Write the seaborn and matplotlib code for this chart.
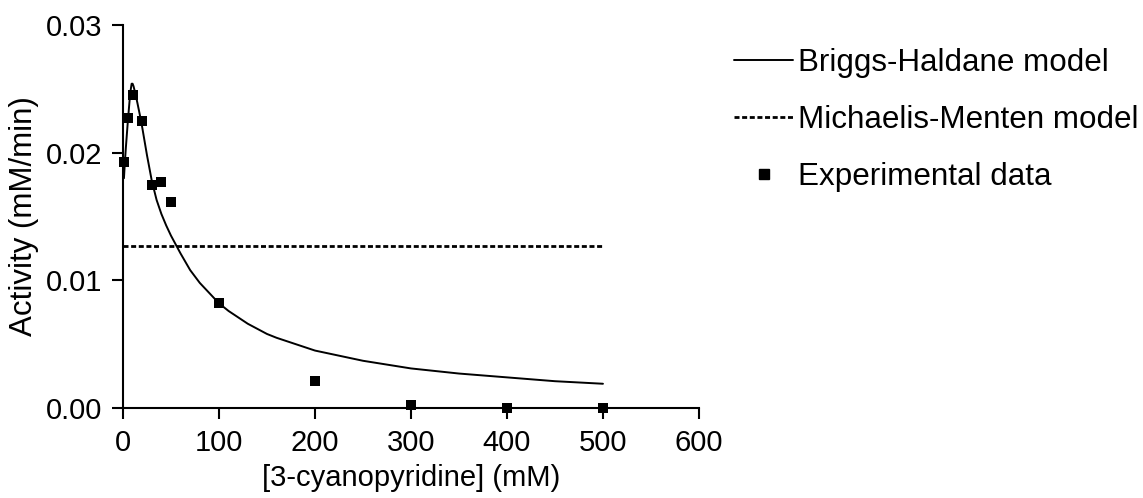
import matplotlib
matplotlib.use("Agg")
import matplotlib.pyplot as plt
from matplotlib.lines import Line2D
import seaborn as sns
import pandas as pd

# Measured activity at each substrate concentration
substrate_mM = [1, 5, 10, 20, 30, 40, 50, 100, 200, 300, 400, 500]
activity = [0.0193, 0.0227, 0.0245, 0.0225, 0.0175, 0.0177, 0.0161,
            0.0082, 0.0021, 0.0002, 0.0, 0.0]

# Fitted Briggs-Haldane (substrate inhibition) curve
bh_substrate = [1, 2, 3, 4, 5, 6, 7, 8, 9, 10, 11, 13, 15, 18, 20, 25, 30,
                35, 40, 45, 50, 60, 70, 80, 90, 100, 110, 120, 130, 140,
                150, 160, 180, 200, 225, 250, 275, 300, 350, 400, 450, 500]
bh_activity = [0.0180, 0.0193, 0.0204, 0.0214, 0.0224, 0.0233, 0.0242,
               0.0249, 0.0254, 0.0254, 0.0252, 0.0246, 0.0239, 0.0228,
               0.0220, 0.0198, 0.0178, 0.0163, 0.0152, 0.0143, 0.0135,
               0.0121, 0.0108, 0.0098, 0.0090, 0.0082, 0.0076, 0.0071,
               0.0066, 0.0062, 0.0058, 0.0055, 0.0050, 0.0045, 0.0041,
               0.0037, 0.0034, 0.0031, 0.0027, 0.0024, 0.0021, 0.0019]

# Fitted Michaelis-Menten model (flat over the tested range)
mm_substrate = [0, 500]
mm_activity = [0.0127, 0.0127]

x_ticks = [0, 100, 200, 300, 400, 500, 600]
y_ticks = [0.00, 0.01, 0.02, 0.03]
y_tick_labels = ["0.00", "0.01", "0.02", "0.03"]

sns.set_style("ticks")
plt.rcParams["font.family"] = ["Liberation Sans", "DejaVu Sans"]
plt.rcParams.update({"text.color": "black", "axes.labelcolor": "black",
                     "xtick.color": "black", "ytick.color": "black"})

fig = plt.figure(figsize=(11.43, 4.98), dpi=100)
ax = fig.add_axes([0.1076, 0.1807, 0.5039, 0.7691])

data_df = pd.DataFrame({"S": substrate_mM, "v": activity})
bh_df = pd.DataFrame({"S": bh_substrate, "v": bh_activity})
mm_df = pd.DataFrame({"S": mm_substrate, "v": mm_activity})

sns.lineplot(data=bh_df, x="S", y="v", ax=ax, color="black", linewidth=1.4,
             sort=False, estimator=None)
sns.lineplot(data=mm_df, x="S", y="v", ax=ax, color="black", linewidth=2.0,
             sort=False, estimator=None)
ax.lines[-1].set_dashes((1.8, 0.95))
sns.scatterplot(data=data_df, x="S", y="v", ax=ax, marker="s", s=42,
                color="black", linewidth=0, clip_on=False, zorder=5)

ax.set_xlim(0, 600)
ax.set_ylim(0, 0.03)
ax.set_xticks(x_ticks)
ax.set_xticklabels([str(t) for t in x_ticks])
ax.set_yticks(y_ticks)
ax.set_yticklabels(y_tick_labels)

for side in ("top", "right"):
    ax.spines[side].set_visible(False)
for side in ("left", "bottom"):
    ax.spines[side].set_linewidth(1.5)
    ax.spines[side].set_color("black")
ax.tick_params(axis="both", length=8, width=1.5, color="black",
               labelsize=21, pad=7, labelcolor="black")

ax.set_xlabel("[3-cyanopyridine] (mM)", fontsize=21, labelpad=5,
              color="black")
ax.set_ylabel("Activity (mM/min)", fontsize=22.5, labelpad=5, color="black")

handles = [
    Line2D([], [], color="black", linewidth=1.4),
    Line2D([], [], color="black", linewidth=2.0, dashes=(1.8, 0.95)),
    Line2D([], [], color="black", marker="s", markersize=6.5, linestyle="none"),
]
labels = ["Briggs-Haldane model", "Michaelis-Menten model", "Experimental data"]
leg = fig.legend(handles, labels, loc="upper left",
                 bbox_to_anchor=(0.642, 0.903), frameon=False, fontsize=22.6,
                 handlelength=1.9, handletextpad=0.15, labelspacing=0.86,
                 borderpad=0, borderaxespad=0)
for txt in leg.get_texts():
    txt.set_color("black")

fig.savefig("out.png", dpi=100)
